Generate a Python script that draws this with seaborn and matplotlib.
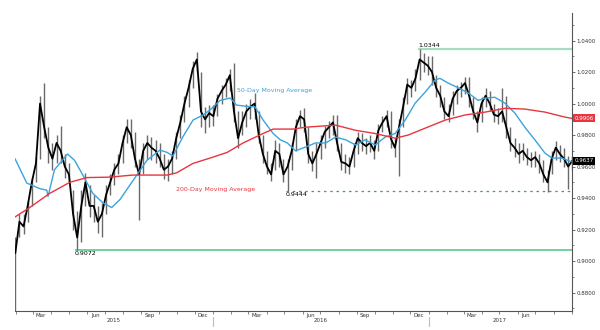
import numpy as np
import pandas as pd
import matplotlib
matplotlib.use("Agg")
import matplotlib.pyplot as plt
import matplotlib.dates as mdates
import matplotlib.ticker as mticker
import matplotlib.transforms as mtransforms
import seaborn as sns

# ---------------- data (USD/CHF, weekly) ----------------
week_start = "2015-01-30 12:00"
close = [0.905, 0.925, 0.922, 0.935, 0.950, 0.962, 1.000, 0.985, 0.972, 0.965,
         0.975, 0.970, 0.960, 0.955, 0.930, 0.915, 0.935, 0.950, 0.935, 0.935,
         0.925, 0.930, 0.942, 0.950, 0.958, 0.962, 0.975, 0.985, 0.980, 0.965,
         0.955, 0.970, 0.975, 0.972, 0.970, 0.965, 0.958, 0.960, 0.965, 0.978,
         0.988, 1.000, 1.010, 1.022, 1.028, 0.995, 0.990, 0.994, 0.992, 1.003,
         1.008, 1.012, 1.018, 0.995, 0.978, 0.988, 0.995, 0.998, 1.000, 0.980,
         0.968, 0.960, 0.955, 0.970, 0.968, 0.955, 0.960, 0.970, 0.985, 0.992,
         0.990, 0.968, 0.962, 0.968, 0.975, 0.982, 0.985, 0.988, 0.975, 0.963,
         0.962, 0.960, 0.970, 0.978, 0.975, 0.973, 0.975, 0.970, 0.983, 0.988,
         0.992, 0.978, 0.972, 0.985, 0.998, 1.012, 1.010, 1.016, 1.028, 1.026,
         1.024, 1.020, 1.010, 1.005, 0.995, 0.992, 1.003, 1.008, 1.010, 1.013,
         1.005, 0.995, 0.988, 1.000, 1.005, 1.000, 0.993, 0.992, 0.995, 0.985,
         0.975, 0.972, 0.968, 0.970, 0.966, 0.964, 0.966, 0.962, 0.955, 0.950,
         0.965, 0.972, 0.968, 0.965, 0.960, 0.9637]
low = [0.868, 0.915, 0.917, 0.925, 0.935, 0.950, 0.965, 0.978, 0.962, 0.958,
       0.962, 0.962, 0.953, 0.950, 0.920, 0.9072, 0.912, 0.935, 0.928, 0.925,
       0.918, 0.915, 0.930, 0.942, 0.948, 0.955, 0.962, 0.975, 0.972, 0.960,
       0.926, 0.955, 0.965, 0.964, 0.962, 0.960, 0.952, 0.951, 0.955, 0.965,
       0.978, 0.988, 0.998, 1.010, 1.020, 0.985, 0.981, 0.985, 0.986, 0.992,
       1.000, 1.004, 1.008, 0.988, 0.972, 0.980, 0.985, 0.990, 0.990, 0.975,
       0.962, 0.955, 0.951, 0.958, 0.960, 0.950, 0.9444, 0.958, 0.970, 0.985,
       0.982, 0.962, 0.957, 0.953, 0.965, 0.972, 0.978, 0.980, 0.970, 0.958,
       0.956, 0.955, 0.960, 0.968, 0.970, 0.968, 0.969, 0.965, 0.970, 0.982,
       0.985, 0.972, 0.966, 0.954, 0.985, 1.000, 1.004, 1.008, 1.015, 1.020,
       1.018, 1.012, 1.004, 0.998, 0.990, 0.9885, 0.993, 1.000, 1.004, 1.006,
       0.998, 0.990, 0.982, 0.988, 0.998, 0.995, 0.988, 0.987, 0.988, 0.978,
       0.970, 0.966, 0.962, 0.964, 0.961, 0.960, 0.960, 0.956, 0.950, 0.944,
       0.955, 0.964, 0.963, 0.960, 0.946, 0.958]
high = [0.915, 0.930, 0.930, 0.938, 0.953, 0.966, 1.005, 1.0129, 0.985, 0.975,
        0.980, 0.986, 0.968, 0.962, 0.945, 0.932, 0.945, 0.956, 0.948, 0.942,
        0.935, 0.937, 0.948, 0.955, 0.962, 0.968, 0.980, 0.990, 0.990, 0.982,
        0.965, 0.975, 0.980, 0.979, 0.977, 0.975, 0.968, 0.965, 0.970, 0.982,
        0.993, 1.005, 1.015, 1.027, 1.0328, 1.020, 0.998, 0.999, 0.999, 1.006,
        1.012, 1.016, 1.022, 1.026, 0.995, 0.995, 1.000, 1.003, 1.007, 0.995,
        0.980, 0.970, 0.962, 0.977, 0.975, 0.965, 0.965, 0.975, 0.990, 0.996,
        0.997, 0.985, 0.970, 0.975, 0.980, 0.986, 0.989, 0.993, 0.993, 0.975,
        0.968, 0.966, 0.975, 0.982, 0.981, 0.978, 0.980, 0.977, 0.987, 0.992,
        0.996, 0.995, 0.978, 0.990, 1.004, 1.016, 1.015, 1.022, 1.0344, 1.032,
        1.030, 1.030, 1.018, 1.012, 1.004, 1.000, 1.008, 1.012, 1.014, 1.017,
        1.017, 1.004, 0.995, 1.004, 1.010, 1.008, 1.000, 0.997, 1.010, 1.005,
        0.985, 0.978, 0.975, 0.975, 0.972, 0.969, 0.970, 0.968, 0.964, 0.958,
        0.970, 0.976, 0.974, 0.972, 0.967, 0.967]

ma50_dates = ["2015-01-30", "2015-02-19", "2015-03-13", "2015-03-25", "2015-03-27",
              "2015-04-07", "2015-04-16", "2015-04-29", "2015-05-11", "2015-05-23",
              "2015-06-11", "2015-06-28", "2015-07-13", "2015-07-27", "2015-08-18",
              "2015-09-11", "2015-10-03", "2015-10-15", "2015-10-25", "2015-11-11",
              "2015-11-28", "2015-12-15", "2015-12-27", "2016-01-13", "2016-01-30",
              "2016-02-10", "2016-03-04", "2016-03-12", "2016-03-26", "2016-04-12",
              "2016-04-24", "2016-05-06", "2016-05-20", "2016-06-06", "2016-06-23",
              "2016-07-10", "2016-07-27", "2016-08-13", "2016-08-30", "2016-09-15",
              "2016-10-02", "2016-10-19", "2016-11-05", "2016-11-22", "2016-12-09",
              "2016-12-26", "2017-01-12", "2017-01-20", "2017-02-03", "2017-02-20",
              "2017-03-09", "2017-03-26", "2017-04-07", "2017-04-23", "2017-05-10",
              "2017-05-27", "2017-06-13", "2017-06-30", "2017-07-17", "2017-07-29",
              "2017-08-15", "2017-08-31"]
ma50 = [0.965, 0.9495, 0.946, 0.945, 0.941, 0.958, 0.962, 0.968, 0.964, 0.956,
        0.943, 0.937, 0.934, 0.939, 0.951, 0.964, 0.9705, 0.969, 0.9667, 0.979,
        0.9895, 0.9927, 0.996, 1.002, 1.0035, 0.999, 0.998, 0.998, 0.9895, 0.981,
        0.977, 0.975, 0.970, 0.9724, 0.975, 0.975, 0.9787, 0.977, 0.9737, 0.977,
        0.9737, 0.9787, 0.981, 0.9895, 1.0003, 1.0073, 1.015, 1.016, 1.013, 1.010,
        1.0067, 1.002, 1.0035, 1.004, 1.0003, 0.994, 0.985, 0.977, 0.9686, 0.9654,
        0.9654, 0.963]

ma200_dates = ["2015-01-30", "2015-02-24", "2015-03-30", "2015-05-03", "2015-06-01",
               "2015-07-10", "2015-08-18", "2015-10-15", "2015-10-31", "2015-11-28",
               "2015-12-27", "2016-01-25", "2016-02-21", "2016-03-26", "2016-04-12",
               "2016-05-16", "2016-06-06", "2016-07-27", "2016-08-30", "2016-10-02",
               "2016-11-05", "2016-11-27", "2016-12-26", "2017-01-29", "2017-03-03",
               "2017-04-07", "2017-05-10", "2017-06-13", "2017-07-17", "2017-08-20",
               "2017-09-01"]
ma200 = [0.928, 0.934, 0.943, 0.950, 0.953, 0.9533, 0.9546, 0.9546, 0.956, 0.962,
         0.9654, 0.969, 0.975, 0.981, 0.9838, 0.9838, 0.985, 0.9863, 0.983, 0.981,
         0.978, 0.980, 0.9844, 0.9895, 0.9927, 0.9946, 0.997, 0.9965, 0.9946, 0.9914,
         0.9906]

y_ticks = [0.88, 0.90, 0.92, 0.94, 0.96, 0.98, 1.00, 1.02, 1.04]
month_labels = ["Mar", "Jun", "Sep", "Dec"]
year_labels = ["2015", "2016", "2017"]
year_centers = ["2015-07-16", "2016-07-01", "2017-05-02"]
year_breaks = ["2016-01-01", "2017-01-01"]

level_high, level_high_date = 1.0344, "2016-12-14"
level_low, level_low_date = 0.9072, "2015-05-11"
level_mid, level_mid_date = 0.9444, "2016-05-03"
last_price = 0.9637
last_ma200 = 0.9906

x_start, x_end = "2015-01-30", "2017-09-01"

# ---------------- style ----------------
sns.set_theme(style="white")
plt.rcParams["font.family"] = ["DejaVu Sans"]

BLUE = "#3ba3dd"
RED = "#e8353f"
GREEN = "#72d09f"
GREEN_LIGHT = "#a6dcc0"
GREEN_DASH = "#3aa46c"

fig = plt.figure(figsize=(6, 3.3), dpi=100)
ax = fig.add_axes([0.025, 0.0576, 0.9283, 0.903])

dates = pd.date_range(week_start, periods=len(close), freq="7D")
price = pd.DataFrame({"date": dates, "close": close, "low": low, "high": high})
m50 = pd.DataFrame({"date": pd.to_datetime(ma50_dates), "v": ma50})
m200 = pd.DataFrame({"date": pd.to_datetime(ma200_dates), "v": ma200})

# level lines
ax.hlines(level_low, pd.Timestamp(level_low_date), pd.Timestamp(x_end), color=GREEN, lw=1.4, zorder=1)
ax.hlines(level_high, pd.Timestamp(level_high_date), pd.Timestamp(x_end), color=GREEN_LIGHT, lw=1.6, zorder=1)
ax.hlines(level_mid, pd.Timestamp(level_mid_date), pd.Timestamp(x_end), color=GREEN_DASH, lw=0.9,
          linestyles=(0, (2, 3)), zorder=1)

# price bars + path
ax.vlines(price["date"], price["low"], price["high"], color="#6a6a6a", lw=1.0, zorder=2)
sns.lineplot(data=price, x="date", y="close", color="black", lw=1.3, ax=ax, zorder=3)

# moving averages
sns.lineplot(data=m50, x="date", y="v", color=BLUE, lw=1.0, ax=ax, zorder=4)
sns.lineplot(data=m200, x="date", y="v", color=RED, lw=1.0, ax=ax, zorder=4)

ax.set_xlim(pd.Timestamp(x_start), pd.Timestamp(x_end))
ax.set_ylim(0.8683, 1.0575)
ax.set_xlabel("")
ax.set_ylabel("")

# annotations
fs = 4.5
ax.text(pd.Timestamp("2016-02-10"), 1.0085, "50-Day Moving Average", color=BLUE, fontsize=fs,
        va="center", ha="left")
ax.text(pd.Timestamp("2015-10-31"), 0.9455, "200-Day Moving Average", color=RED, fontsize=fs,
        va="center", ha="left")
ax.text(pd.Timestamp(level_high_date), level_high + 0.0008, f"{level_high:.4f}", fontsize=fs,
        color="black", va="bottom", ha="left")
ax.text(pd.Timestamp(level_mid_date), level_mid - 0.0008, f"{level_mid:.4f}", fontsize=fs,
        color="black", va="top", ha="left")
ax.text(pd.Timestamp(level_low_date), level_low - 0.0008, f"{level_low:.4f}", fontsize=fs,
        color="black", va="top", ha="left")

# spines
for s in ["top", "left"]:
    ax.spines[s].set_visible(False)
ax.spines["right"].set_color("#555555")
ax.spines["bottom"].set_color("#555555")
ax.spines["right"].set_linewidth(0.8)
ax.spines["bottom"].set_linewidth(0.8)

# y axis on the right
ax.yaxis.tick_right()
ax.set_yticks(y_ticks)
ax.yaxis.set_major_formatter(mticker.FuncFormatter(lambda v, p: f"{v:.4f}"))
ax.yaxis.set_minor_locator(mticker.MultipleLocator(0.01))
ax.tick_params(axis="y", which="major", right=True, length=2.5, width=0.6, color="#555555",
               labelsize=4, pad=1, labelcolor="#333333")
ax.tick_params(axis="y", which="minor", right=True, length=1.5, width=0.5, color="#555555")

# x axis: month ticks at month starts, labels mid-month
ax.xaxis.set_minor_locator(mdates.MonthLocator())
ax.xaxis.set_major_locator(mdates.MonthLocator(bymonth=[3, 6, 9, 12], bymonthday=15))
ax.xaxis.set_major_formatter(mdates.DateFormatter("%b"))
ax.tick_params(axis="x", which="minor", bottom=True, length=2, width=0.5, color="#555555")
ax.tick_params(axis="x", which="major", bottom=False, length=0, labelsize=4, pad=1.5,
               labelcolor="#333333")

trans = mtransforms.blended_transform_factory(ax.transData, ax.transAxes)
for lab, c in zip(year_labels, year_centers):
    ax.text(pd.Timestamp(c), -0.025, lab, transform=trans, fontsize=4, ha="center", va="top",
            color="#333333")
for b in year_breaks:
    ax.plot([pd.Timestamp(b)] * 2, [-0.02, -0.05], transform=trans, color="#bbbbbb", lw=0.8,
            clip_on=False)

# right-hand value boxes
ytrans = mtransforms.blended_transform_factory(ax.transAxes, ax.transData)
ax.text(1.004, last_ma200, f"{last_ma200:.4f}", transform=ytrans, fontsize=4, color="white",
        va="center", ha="left",
        bbox=dict(boxstyle="square,pad=0.25", fc=RED, ec="none"))
ax.text(1.004, last_price, f"{last_price:.4f}", transform=ytrans, fontsize=4, color="white",
        va="center", ha="left",
        bbox=dict(boxstyle="square,pad=0.25", fc="black", ec="none"))

fig.savefig("out.png", dpi=100)
